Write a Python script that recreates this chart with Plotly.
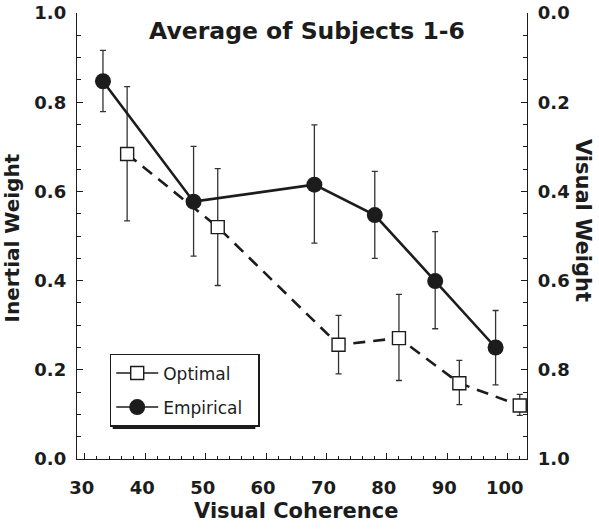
import plotly.graph_objects as go

# ---- data ----
coh_emp = [33, 48, 68, 78, 88, 98]
w_emp = [0.847, 0.577, 0.615, 0.547, 0.399, 0.250]
emp_err_plus = [0.069, 0.124, 0.134, 0.098, 0.111, 0.083]
emp_err_minus = [0.068, 0.122, 0.131, 0.097, 0.107, 0.084]

coh_opt = [37, 52, 72, 82, 92, 102]
w_opt = [0.684, 0.520, 0.256, 0.271, 0.170, 0.120]
opt_err_plus = [0.151, 0.131, 0.066, 0.098, 0.051, 0.025]
opt_err_minus = [0.150, 0.131, 0.065, 0.095, 0.048, 0.022]

x_ticks = [30, 40, 50, 60, 70, 80, 90, 100]
y_ticks = [0.0, 0.2, 0.4, 0.6, 0.8, 1.0]

BOLD = "DejaVu Sans"
INK = "#1c1c1c"

fig = go.Figure()

fig.add_trace(go.Scatter(
    x=coh_opt, y=w_opt, mode="lines+markers", name="Optimal", showlegend=False,
    line=dict(color=INK, width=2.6, dash="12px,8px"),
    marker=dict(symbol="square", size=13, color="white", line=dict(color=INK, width=1.4)),
    error_y=dict(type="data", symmetric=False, array=opt_err_plus, arrayminus=opt_err_minus,
                 color="#333333", thickness=1.3, width=3),
))
fig.add_trace(go.Scatter(
    x=coh_emp, y=w_emp, mode="lines+markers", name="Empirical", showlegend=False,
    line=dict(color=INK, width=2.6),
    marker=dict(symbol="circle", size=16, color=INK),
    error_y=dict(type="data", symmetric=False, array=emp_err_plus, arrayminus=emp_err_minus,
                 color="#333333", thickness=1.3, width=3),
))
# legend entries
fig.add_trace(go.Scatter(
    x=[None], y=[None], mode="lines+markers", name="Optimal\u00a0\u00a0", legendgroup="a",
    line=dict(color=INK, width=1.5),
    marker=dict(symbol="square", size=13, color="white", line=dict(color=INK, width=1.4)),
))
fig.add_trace(go.Scatter(
    x=[None], y=[None], mode="lines+markers", name="Empirical\u00a0\u00a0", legendgroup="b",
    line=dict(color=INK, width=1.5),
    marker=dict(symbol="circle", size=16, color=INK),
))
# anchor for right axis
fig.add_trace(go.Scatter(x=[50], y=[0.5], yaxis="y2", mode="markers",
                         marker=dict(opacity=0), showlegend=False, hoverinfo="skip"))

tickfont = dict(family=BOLD, size=18, color=INK, weight="bold")

fig.update_layout(
    width=599, height=529,
    margin=dict(l=77, r=72, t=13, b=70, autoexpand=False),
    paper_bgcolor="white", plot_bgcolor="white",
    title=dict(text="<b>Average of Subjects 1-6</b>", x=307 / 599, xanchor="center",
               y=1 - 31 / 529, yanchor="middle", automargin=False,
               font=dict(family=BOLD, size=23.5, color=INK)),
    xaxis=dict(range=[28.7, 103.2], tickvals=x_ticks, ticks="inside", ticklen=6,
               tickwidth=1.2, tickcolor=INK, showline=True, linecolor=INK, linewidth=1.4,
               showgrid=False, zeroline=False, tickfont=tickfont, automargin=False,
               ticklabelstandoff=12, ticklabelshift=-3,
               minor=dict(dtick=2, tick0=30, ticks="inside", ticklen=3, tickcolor=INK, tickwidth=1)),
    yaxis=dict(range=[0, 1], tickvals=y_ticks, tickformat=".1f", ticks="inside", ticklen=6,
               tickwidth=1.2, tickcolor=INK, showline=True, linecolor=INK, linewidth=1.4,
               showgrid=False, zeroline=False, tickfont=tickfont, ticklabelstandoff=6,
               automargin=False,
               minor=dict(dtick=0.05, tick0=0, ticks="inside", ticklen=4, tickcolor=INK, tickwidth=1)),
    yaxis2=dict(range=[1, 0], tickvals=y_ticks, tickformat=".1f", overlaying="y", side="right",
                ticks="inside", ticklen=6, tickwidth=1.2, tickcolor=INK, showline=True,
                linecolor=INK, linewidth=1.4, showgrid=False, zeroline=False,
                tickfont=tickfont, ticklabelstandoff=6, automargin=False,
                minor=dict(dtick=0.05, tick0=0, ticks="inside", ticklen=4, tickcolor=INK, tickwidth=1)),
    legend=dict(x=0.0727, y=0.2356, xanchor="left", yanchor="top",
                bgcolor="white", bordercolor=INK, borderwidth=1.5,
                font=dict(family="DejaVu Sans", size=17, color=INK),
                traceorder="grouped", tracegroupgap=9, itemwidth=42),
    showlegend=True,
)

# legend drop shadow
fig.add_shape(type="rect", xref="paper", yref="paper",
              x0=(113 - 77.3) / 449.7, x1=(255.5 - 77.3) / 449.7,
              y0=(459 - 429) / 445.7, y1=(459 - 357) / 445.7,
              fillcolor=INK, line=dict(width=0), layer="above")

fig.add_annotation(text="<b>Visual Coherence</b>", xref="paper", yref="paper",
                   x=0.4874, y=-0.117, xanchor="center", yanchor="middle", showarrow=False,
                   font=dict(family=BOLD, size=21, color=INK))
fig.add_annotation(text="<b>Inertial Weight</b>", xref="paper", yref="paper",
                   x=-0.145, y=0.496, xanchor="center", yanchor="middle", showarrow=False,
                   textangle=-90, font=dict(family=BOLD, size=20, color=INK))
fig.add_annotation(text="<b>Visual Weight</b>", xref="paper", yref="paper",
                   x=1.1245, y=0.536, xanchor="center", yanchor="middle", showarrow=False,
                   textangle=90, font=dict(family=BOLD, size=21, color=INK))

fig.write_html("out.html", config={"displayModeBar": False},
               post_script="document.body.style.margin='0';")
